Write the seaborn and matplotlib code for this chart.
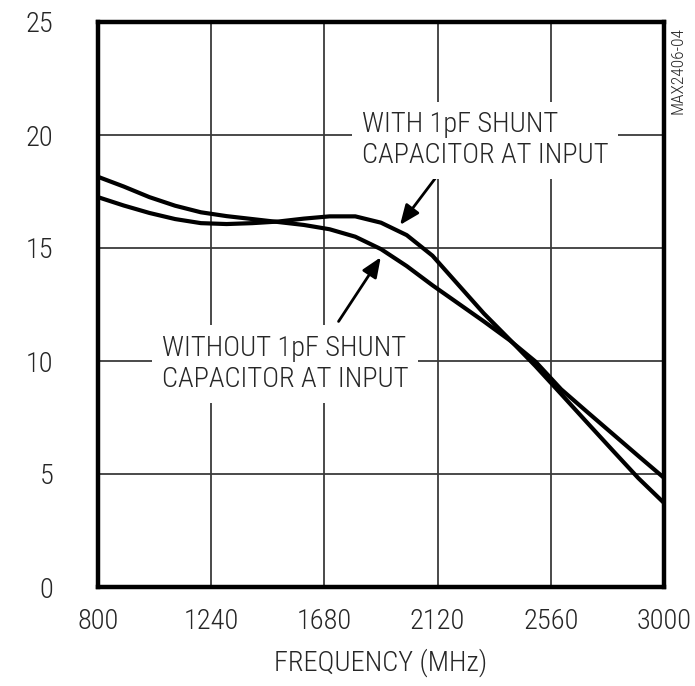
import os
import matplotlib
matplotlib.use("Agg")
import matplotlib.pyplot as plt
from matplotlib import font_manager
from matplotlib.font_manager import FontProperties
import pandas as pd
import seaborn as sns

# Gain vs frequency
freq_mhz = [800, 900, 1000, 1100, 1200, 1300, 1400, 1500, 1600, 1700, 1800, 1900,
            2000, 2100, 2200, 2300, 2400, 2500, 2600, 2700, 2800, 2900, 3000]
gain_with_cap = [17.25, 16.88, 16.55, 16.28, 16.10, 16.06, 16.10, 16.17, 16.30, 16.40,
                 16.40, 16.12, 15.57, 14.66, 13.38, 12.10, 10.95, 9.78, 8.54, 7.29,
                 6.05, 4.82, 3.72]
gain_without_cap = [18.15, 17.72, 17.25, 16.87, 16.58, 16.41, 16.28, 16.15, 16.02, 15.83,
                    15.50, 14.95, 14.20, 13.35, 12.55, 11.75, 10.92, 9.98, 8.75, 7.76,
                    6.78, 5.80, 4.83]

series_names = ["WITH 1pF SHUNT\nCAPACITOR AT INPUT",
                "WITHOUT 1pF SHUNT\nCAPACITOR AT INPUT"]

x_ticks = [800, 1240, 1680, 2120, 2560, 3000]
y_ticks = [0, 5, 10, 15, 20, 25]
x_label = "FREQUENCY (MHz)"
part_tag = "MAX2406-04"

df = pd.concat([
    pd.DataFrame({"freq": freq_mhz, "gain": gain_with_cap, "curve": series_names[0]}),
    pd.DataFrame({"freq": freq_mhz, "gain": gain_without_cap, "curve": series_names[1]}),
], ignore_index=True)

sns.set_style("white")

# Pick a narrow sans face if one is installed
font_path = None
preferred = ["LiberationSansNarrow-Regular", "RobotoCondensed-Light", "RobotoCondensed-Regular",
             "DejaVuSansCondensed.", "OpenSans_Condensed-Regular", "OpenSans-CondensedRegular",
             "OpenSansCondensed-Light", "NotoSans-CondensedLight", "NotoSans-Condensed",
             "Roboto-Light", "Roboto-Regular"]
files = [f.fname for f in font_manager.fontManager.ttflist]
for key in preferred:
    hits = [p for p in files if key in os.path.basename(p)]
    if hits:
        font_path = hits[0]
        break


def fp(size):
    if font_path:
        return FontProperties(fname=font_path, size=size)
    return FontProperties(family="DejaVu Sans", size=size)


text_color = "#262626"

fig = plt.figure(figsize=(6.95, 6.86), dpi=100)
ax = fig.add_axes([98 / 695, 1 - 587 / 686, (664 - 98) / 695, (587 - 22) / 686])

# Scale the type so the first label line spans about 196 px
renderer = fig.canvas.get_renderer()
probe = fig.text(0, 0, "WITH 1pF SHUNT", fontproperties=fp(21))
w = probe.get_window_extent(renderer).width
probe.remove()
fs = min(24.0, 21 * 196.0 / w)

sns.lineplot(data=df, x="freq", y="gain", hue="curve",
             palette=["black", "black"], linewidth=3.0, legend=False,
             ax=ax, zorder=4, sort=True)

ax.set_xlim(x_ticks[0], x_ticks[-1])
ax.set_ylim(y_ticks[0], y_ticks[-1])
ax.set_xticks(x_ticks)
ax.set_yticks(y_ticks)
ax.set_xticklabels([str(v) for v in x_ticks], fontproperties=fp(fs), color=text_color)
ax.set_yticklabels([str(v) for v in y_ticks], fontproperties=fp(fs), color=text_color)
ax.tick_params(axis="both", length=0)
ax.tick_params(axis="x", pad=15)
ax.tick_params(axis="y", pad=32)
ax.set_xlabel(x_label, fontproperties=fp(fs), color=text_color, labelpad=10)
ax.set_ylabel("")

ax.grid(True, color="#3a3a3a", linewidth=1.3)
ax.set_axisbelow(True)
for sp in ax.spines.values():
    sp.set_linewidth(3.2)
    sp.set_color("black")

# Curve labels on white boxes that break the grid
box = dict(facecolor="white", edgecolor="none", pad=7)
ax.text(1826, 21.05, series_names[0], fontproperties=fp(fs), color=text_color,
        ha="left", va="top", linespacing=1.2, bbox=box, zorder=3)
ax.text(1049, 11.15, series_names[1], fontproperties=fp(fs), color=text_color,
        ha="left", va="top", linespacing=1.2, bbox=box, zorder=3)

arrow = dict(arrowstyle="-|>,head_length=0.6,head_width=0.25", mutation_scale=20,
             color="black", lw=2.0, shrinkA=0, shrinkB=0)
ax.annotate("", xy=(1974, 16.02), xytext=(2118, 18.19), arrowprops=arrow, zorder=2)
ax.annotate("", xy=(1899, 14.59), xytext=(1735, 11.75), arrowprops=arrow, zorder=2)

fig.text(677.5 / 695, 1 - 70 / 686, part_tag, rotation=90, fontproperties=fp(12.5),
         color=text_color, ha="center", va="center")

fig.savefig("out.png", dpi=100)
